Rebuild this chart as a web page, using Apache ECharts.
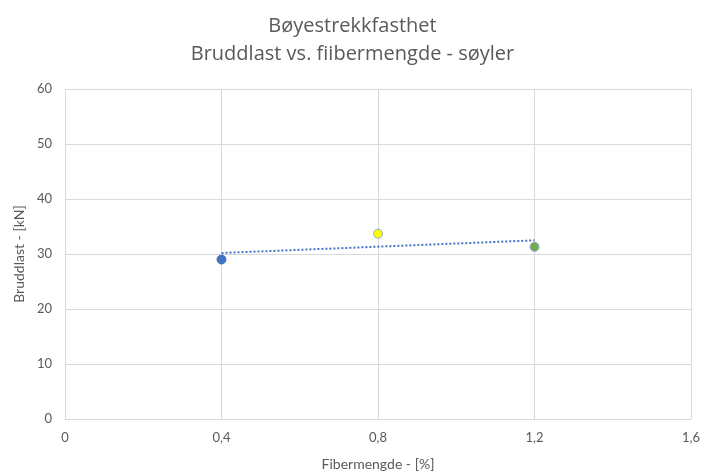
<!DOCTYPE html>
<html>
<head>
<meta charset="utf-8">
<script src="https://cdn.jsdelivr.net/npm/echarts@6/dist/echarts.min.js"></script>
<style>
  html, body { margin: 0; padding: 0; background: #fff; }
  #chart { width: 705px; height: 473px; }
</style>
</head>
<body>
<div id="chart"></div>
<script>
// Fibre content (%) and measured breaking load (kN)
const fiberContent = [0.4, 0.8, 1.2];
const breakingLoad = [29.0, 33.7, 31.3];
const pointColors = ['#4472C4', '#FFFF00', '#70AD47'];

const titleText = 'Bøyestrekkfasthet\nBruddlast vs. fiibermengde - søyler';
const xAxisName = 'Fibermengde - [%]';
const yAxisName = 'Bruddlast - [kN]';

// Least-squares linear trend through the measured points
function linearTrend(xs, ys) {
  const n = xs.length;
  const mx = xs.reduce((a, b) => a + b, 0) / n;
  const my = ys.reduce((a, b) => a + b, 0) / n;
  let sxy = 0, sxx = 0;
  for (let i = 0; i < n; i++) {
    sxy += (xs[i] - mx) * (ys[i] - my);
    sxx += (xs[i] - mx) * (xs[i] - mx);
  }
  const k = sxy / sxx;
  const b = my - k * mx;
  const x0 = Math.min(...xs), x1 = Math.max(...xs);
  return [[x0, k * x0 + b], [x1, k * x1 + b]];
}

const fmt = v => (+v.toFixed(1)).toString().replace('.', ',');
const font = 'Lato, "Open Sans", sans-serif';
const titleFont = '"Open Sans", "Noto Sans", sans-serif';

const chart = echarts.init(document.getElementById('chart'), null, { renderer: 'canvas' });
chart.setOption({
  animation: false,
  backgroundColor: '#ffffff',
  textStyle: { fontFamily: font },
  title: {
    text: titleText,
    left: 'center',
    top: 7,
    textStyle: {
      fontFamily: titleFont,
      fontSize: 20,
      fontWeight: 'normal',
      color: '#595959',
      lineHeight: 28
    }
  },
  grid: { left: 65, right: 14, top: 89, bottom: 54, containLabel: false, outerBoundsMode: 'none' },
  xAxis: {
    type: 'value',
    min: 0, max: 1.6, interval: 0.4,
    name: xAxisName,
    nameLocation: 'middle',
    nameGap: 38,
    nameTextStyle: { color: '#595959', fontSize: 14, fontFamily: font },
    axisLine: { show: true, lineStyle: { color: '#d9d9d9', width: 1 } },
    axisTick: { show: false },
    axisLabel: { color: '#595959', fontSize: 13, margin: 12, formatter: fmt },
    splitLine: { show: true, lineStyle: { color: '#d9d9d9', width: 1 } }
  },
  yAxis: {
    type: 'value',
    min: 0, max: 60, interval: 10,
    name: yAxisName,
    nameLocation: 'middle',
    nameGap: 37,
    nameTextStyle: { color: '#595959', fontSize: 14, fontFamily: font },
    axisLine: { show: false },
    axisTick: { show: false },
    axisLabel: { color: '#595959', fontSize: 13, margin: 13 },
    splitLine: { show: true, lineStyle: { color: '#d9d9d9', width: 1 } }
  },
  series: [
    {
      name: 'Trend',
      type: 'line',
      data: linearTrend(fiberContent, breakingLoad),
      symbol: 'none',
      lineStyle: { color: '#4472C4', width: 2, type: [2, 2] },
      z: 2
    },
    {
      name: yAxisName,
      type: 'scatter',
      symbolSize: 9,
      data: fiberContent.map((x, i) => ({
        value: [x, breakingLoad[i]],
        itemStyle: {
          color: pointColors[i],
          opacity: 1,
          borderColor: i === 0 ? '#4472C4' : '#8ea9db',
          borderWidth: 1
        }
      })),
      z: 3
    }
  ]
});
</script>
</body>
</html>
